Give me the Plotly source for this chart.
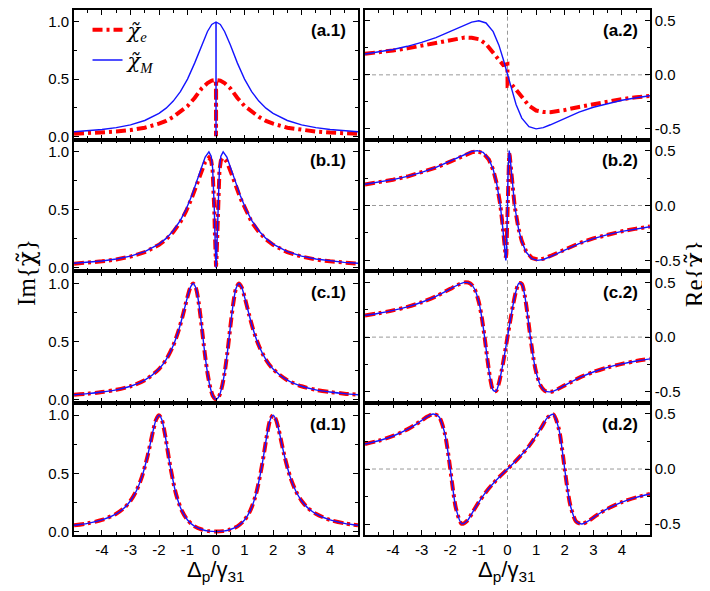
# Im / Re parts of the two susceptibilities, 4 rows x 2 columns
import plotly.graph_objects as go

# ---- data ----
# row (a)
xa = [-4.98, -4.5, -4, -3.5, -3, -2.5, -2, -1.75, -1.5, -1.25, -1, -0.75, -0.5, -0.3, -0.15, -0.003,
      0, 0.003, 0.15, 0.3, 0.5, 0.75, 1, 1.25, 1.5, 1.75, 2, 2.5, 3, 3.5, 4, 4.5, 4.98]
im_a_M = [0.039, 0.047, 0.059, 0.076, 0.100, 0.138, 0.200, 0.246, 0.308, 0.390, 0.500, 0.640, 0.800, 0.917, 0.978, 1.000,
          0.0, 1.000, 0.978, 0.917, 0.800, 0.640, 0.500, 0.390, 0.308, 0.246, 0.200, 0.138, 0.100, 0.076, 0.059, 0.047, 0.039]
im_a_e = [0.022, 0.026, 0.032, 0.041, 0.054, 0.075, 0.110, 0.135, 0.170, 0.215, 0.265, 0.335, 0.420, 0.465, 0.487, 0.492,
          0.0, 0.492, 0.487, 0.465, 0.420, 0.335, 0.265, 0.215, 0.170, 0.135, 0.110, 0.075, 0.054, 0.041, 0.032, 0.026, 0.022]
re_a_M = [0.193, 0.212, 0.235, 0.264, 0.300, 0.345, 0.400, 0.431, 0.462, 0.488, 0.500, 0.480, 0.400, 0.275, 0.147, 0.003,
          0.0, -0.003, -0.147, -0.275, -0.400, -0.480, -0.500, -0.488, -0.462, -0.431, -0.400, -0.345, -0.300, -0.264, -0.235, -0.212, -0.193]
re_a_e = [0.195, 0.208, 0.225, 0.245, 0.270, 0.297, 0.325, 0.337, 0.345, 0.343, 0.330, 0.285, 0.205, 0.140, 0.090, 0.100,
          0.0, -0.100, -0.090, -0.140, -0.205, -0.285, -0.330, -0.343, -0.345, -0.337, -0.325, -0.297, -0.270, -0.245, -0.225, -0.208, -0.195]

# row (b)
xb = [-4.98, -4.5, -4, -3.5, -3, -2.5, -2, -1.75, -1.5, -1.25, -1.05, -0.85, -0.65, -0.5, -0.38, -0.25, -0.17, -0.12, -0.08, -0.059, -0.04, -0.02,
      0, 0.02, 0.04, 0.059, 0.08, 0.12, 0.17, 0.25, 0.38, 0.5, 0.65, 0.85, 1.05, 1.25, 1.5, 1.75, 2, 2.5, 3, 3.5, 4, 4.5, 4.98]
im_b_M = [0.039, 0.047, 0.059, 0.076, 0.101, 0.140, 0.205, 0.254, 0.320, 0.410, 0.505, 0.624, 0.765, 0.877, 0.956, 1.000, 0.962, 0.862, 0.670, 0.500, 0.301, 0.094,
          0.0, 0.094, 0.301, 0.500, 0.670, 0.862, 0.962, 1.000, 0.956, 0.877, 0.765, 0.624, 0.505, 0.410, 0.320, 0.254, 0.205, 0.140, 0.101, 0.076, 0.059, 0.047, 0.039]
im_b_e = [0.036, 0.044, 0.056, 0.072, 0.097, 0.135, 0.198, 0.245, 0.310, 0.395, 0.488, 0.603, 0.740, 0.845, 0.915, 0.950, 0.925, 0.840, 0.660, 0.490, 0.300, 0.100,
          0.010, 0.100, 0.300, 0.490, 0.660, 0.840, 0.925, 0.950, 0.915, 0.845, 0.740, 0.603, 0.488, 0.395, 0.310, 0.245, 0.198, 0.135, 0.097, 0.072, 0.056, 0.044, 0.036]
re_b_M = [0.194, 0.212, 0.236, 0.265, 0.302, 0.347, 0.404, 0.435, 0.466, 0.492, 0.500, 0.484, 0.424, 0.329, 0.206, 0.0, -0.190, -0.345, -0.470, -0.500, -0.459, -0.292,
          0.0, 0.292, 0.459, 0.500, 0.470, 0.345, 0.190, 0.0, -0.206, -0.329, -0.424, -0.484, -0.500, -0.492, -0.466, -0.435, -0.404, -0.347, -0.302, -0.265, -0.236, -0.212, -0.194]
re_b_e = [0.192, 0.211, 0.235, 0.264, 0.300, 0.345, 0.400, 0.430, 0.460, 0.485, 0.493, 0.478, 0.418, 0.325, 0.205, 0.005, -0.180, -0.330, -0.450, -0.475, -0.440, -0.280,
          0.0, 0.280, 0.440, 0.475, 0.450, 0.330, 0.180, -0.005, -0.205, -0.325, -0.418, -0.478, -0.493, -0.485, -0.460, -0.430, -0.400, -0.345, -0.300, -0.264, -0.235, -0.211, -0.192]

# row (c)  -- both curves lie on top of each other
xc = [-4.98, -4.5, -4, -3.5, -3, -2.5, -2, -1.75, -1.5, -1.3, -1.15, -1, -0.9, -0.8, -0.7, -0.6, -0.5, -0.4, -0.3, -0.2, -0.1,
      0, 0.1, 0.2, 0.3, 0.4, 0.5, 0.6, 0.7, 0.8, 0.9, 1, 1.15, 1.3, 1.5, 1.75, 2, 2.5, 3, 3.5, 4, 4.5, 4.98]
im_c = [0.041, 0.050, 0.064, 0.083, 0.114, 0.166, 0.262, 0.343, 0.465, 0.605, 0.740, 0.885, 0.966, 1.000, 0.956, 0.821, 0.622, 0.410, 0.229, 0.100, 0.025,
        0.0, 0.025, 0.100, 0.229, 0.410, 0.622, 0.821, 0.956, 1.000, 0.966, 0.885, 0.740, 0.605, 0.465, 0.343, 0.262, 0.166, 0.114, 0.083, 0.064, 0.050, 0.041]
re_c = [0.198, 0.218, 0.244, 0.276, 0.318, 0.372, 0.440, 0.475, 0.499, 0.489, 0.439, 0.319, 0.182, 0.0, -0.205, -0.383, -0.485, -0.492, -0.420, -0.300, -0.155,
        0.0, 0.155, 0.300, 0.420, 0.492, 0.485, 0.383, 0.205, 0.0, -0.182, -0.319, -0.439, -0.489, -0.499, -0.475, -0.440, -0.372, -0.318, -0.276, -0.244, -0.218, -0.198]

# row (d)
xd = [-4.98, -4.5, -4, -3.5, -3.2, -3, -2.8, -2.6, -2.4, -2.2, -2.1, -2, -1.9, -1.8, -1.6, -1.4, -1.2, -1, -0.75, -0.5, -0.25,
      0, 0.25, 0.5, 0.75, 1, 1.2, 1.4, 1.6, 1.8, 1.9, 2, 2.1, 2.2, 2.4, 2.6, 2.8, 3, 3.2, 3.5, 4, 4.5, 4.98]
im_d = [0.054, 0.071, 0.100, 0.153, 0.208, 0.265, 0.347, 0.470, 0.650, 0.873, 0.963, 1.000, 0.960, 0.849, 0.553, 0.320, 0.180, 0.100, 0.045, 0.018, 0.004,
        0.0, 0.004, 0.018, 0.045, 0.100, 0.180, 0.320, 0.553, 0.849, 0.960, 1.000, 0.963, 0.873, 0.650, 0.470, 0.347, 0.265, 0.208, 0.153, 0.100, 0.071, 0.054]
re_d = [0.227, 0.257, 0.300, 0.360, 0.406, 0.441, 0.476, 0.499, 0.477, 0.333, 0.188, 0.0, -0.197, -0.358, -0.497, -0.467, -0.384, -0.300, -0.208, -0.131, -0.063,
        0.0, 0.063, 0.131, 0.208, 0.300, 0.384, 0.467, 0.497, 0.358, 0.197, 0.0, -0.188, -0.333, -0.477, -0.499, -0.476, -0.441, -0.406, -0.360, -0.300, -0.257, -0.227]

x_ticks = [-4, -3, -2, -1, 0, 1, 2, 3, 4]
x_labels = ["-4", "-3", "-2", "-1", "0", "1", "2", "3", "4"]
im_ticks = [0, 0.5, 1.0]
im_labels = ["0.0", "0.5", "1.0"]
re_ticks = [-0.5, 0, 0.5]
re_labels = ["-0.5", "0.0", "0.5"]

# (x, chi_e, chi_M, label, line shape) in reading order
# rows a and b have the very narrow dip at zero -> straight segments there
panels = [
   (xa, im_a_e, im_a_M, "(a.1)", "linear"), (xa, re_a_e, re_a_M, "(a.2)", "linear"),
   (xb, im_b_e, im_b_M, "(b.1)", "linear"), (xb, re_b_e, re_b_M, "(b.2)", "linear"),
   (xc, im_c, im_c, "(c.1)", "spline"), (xc, re_c, re_c, "(c.2)", "spline"),
   (xd, im_d, im_d, "(d.1)", "spline"), (xd, re_d, re_d, "(d.2)", "spline"),
]

RED = "#ff0000"
BLUE = "#1414ff"
TICKFONT = dict(family="Liberation Sans, Arial", size=15, color="black")
# chi with tilde: DejaVu Serif puts the combining tilde on top of the letter
CHI = '<span style="font-family:DejaVu Serif">χ\u0303</span>'

# panel boxes in paper fractions (figure is 710 x 591, no margins)
row_dom = [[0.7766, 0.9983], [0.5516, 0.7766], [0.3266, 0.5516], [0.1007, 0.3266]]
col_dom = [[0.0930, 0.4930], [0.5028, 0.9042]]

fig = go.Figure()
layout = {}
annotations = []
shapes = []

for i, (x, y_e, y_m, lab, shp) in enumerate(panels):
   n = i + 1
   r, c = i // 2, i % 2
   xs = "x" if n == 1 else "x%d" % n
   ys = "y" if n == 1 else "y%d" % n

   fig.add_trace(go.Scatter(x=x, y=y_e, xaxis=xs, yaxis=ys, mode="lines",
                            line=dict(color=RED, width=4, dash="10px,4px,3px,4px", shape=shp, smoothing=0.8),
                            name="<i>%s</i><sub><i>e</i></sub>" % CHI, showlegend=(n == 1)))
   fig.add_trace(go.Scatter(x=x, y=y_m, xaxis=xs, yaxis=ys, mode="lines",
                            line=dict(color=BLUE, width=1.4, shape=shp, smoothing=0.8),
                            name="<i>%s</i><sub><i>M</i></sub>" % CHI, showlegend=(n == 1)))

   layout["xaxis" if n == 1 else "xaxis%d" % n] = dict(
      domain=col_dom[c], anchor=ys, range=[-4.98, 4.98],
      showline=True, linecolor="black", linewidth=1.6, mirror="ticks",
      ticks="inside", ticklen=5, tickcolor="black", tickwidth=1.2,
      tickmode="array", tickvals=x_ticks, ticktext=x_labels,
      showticklabels=(r == 3), tickfont=TICKFONT,
      minor=dict(tickmode="linear", tick0=0, dtick=0.5, ticks="inside", ticklen=3.5, tickcolor="black", tickwidth=1.2),
      showgrid=False, zeroline=False)

   if c == 0:
      yrange, tv, tt, side = [-0.03, 1.105], im_ticks, im_labels, "left"
   else:
      yrange, tv, tt, side = [-0.6, 0.6], re_ticks, re_labels, "right"
   layout["yaxis" if n == 1 else "yaxis%d" % n] = dict(
      domain=row_dom[r], anchor=xs, range=yrange, side=side,
      showline=True, linecolor="black", linewidth=1.6, mirror="ticks",
      ticks="inside", ticklen=5, tickcolor="black", tickwidth=1.2,
      tickmode="array", tickvals=tv, ticktext=tt, tickfont=TICKFONT,
      minor=dict(tickmode="linear", tick0=0, dtick=0.25, ticks="inside", ticklen=3.5, tickcolor="black", tickwidth=1.2),
      showgrid=False, zeroline=False)

   # panel label
   annotations.append(dict(text="<b>%s</b>" % lab, xref=xs + " domain", yref=ys + " domain",
                           x=0.965, y=0.84, xanchor="right", yanchor="middle", showarrow=False,
                           font=dict(family="Liberation Sans, Arial", size=17, color="black")))

   # dashed guides in the Re panels
   if c == 1:
      shapes.append(dict(type="line", xref=xs + " domain", yref=ys, x0=0, x1=1, y0=0, y1=0,
                         line=dict(color="#999999", width=1, dash="4px,3px"), layer="below"))
      shapes.append(dict(type="line", xref=xs, yref=ys + " domain", x0=0, x1=0, y0=0, y1=1,
                         line=dict(color="#999999", width=1, dash="4px,3px"), layer="below"))

# axis titles
annotations.append(dict(text="Im{%s}" % CHI, xref="paper", yref="paper", x=0.003, y=1 - 266 / 591,
                        textangle=-90, showarrow=False, xanchor="left", yanchor="middle",
                        font=dict(family="Liberation Serif, Times New Roman", size=25, color="black")))
annotations.append(dict(text="Re{%s}" % CHI, xref="paper", yref="paper", x=0.966, y=1 - 267 / 591,
                        textangle=-90, showarrow=False, xanchor="center", yanchor="middle",
                        font=dict(family="Liberation Serif, Times New Roman", size=25, color="black")))
for xs in ["x7", "x8"]:
   annotations.append(dict(text="Δ<sub>p</sub>/γ<sub>31</sub>", xref=xs + " domain", yref="paper",
                           x=0.5, y=1 - 568 / 591, xanchor="center", yanchor="middle", showarrow=False,
                           font=dict(family="Liberation Sans, Arial", size=22, color="black")))

fig.update_layout(
   width=710,
   height=591,
   autosize=False,
   margin=dict(l=0, r=0, t=0, b=0),
   paper_bgcolor="white",
   plot_bgcolor="white",
   showlegend=True,
   legend=dict(x=0.112, y=0.999, xanchor="left", yanchor="top", bgcolor="rgba(0,0,0,0)",
               font=dict(family="Liberation Serif, Times New Roman", size=21, color="black"),
               tracegroupgap=0),
   annotations=annotations,
   shapes=shapes,
   **layout
)

fig.write_html("out.html")
